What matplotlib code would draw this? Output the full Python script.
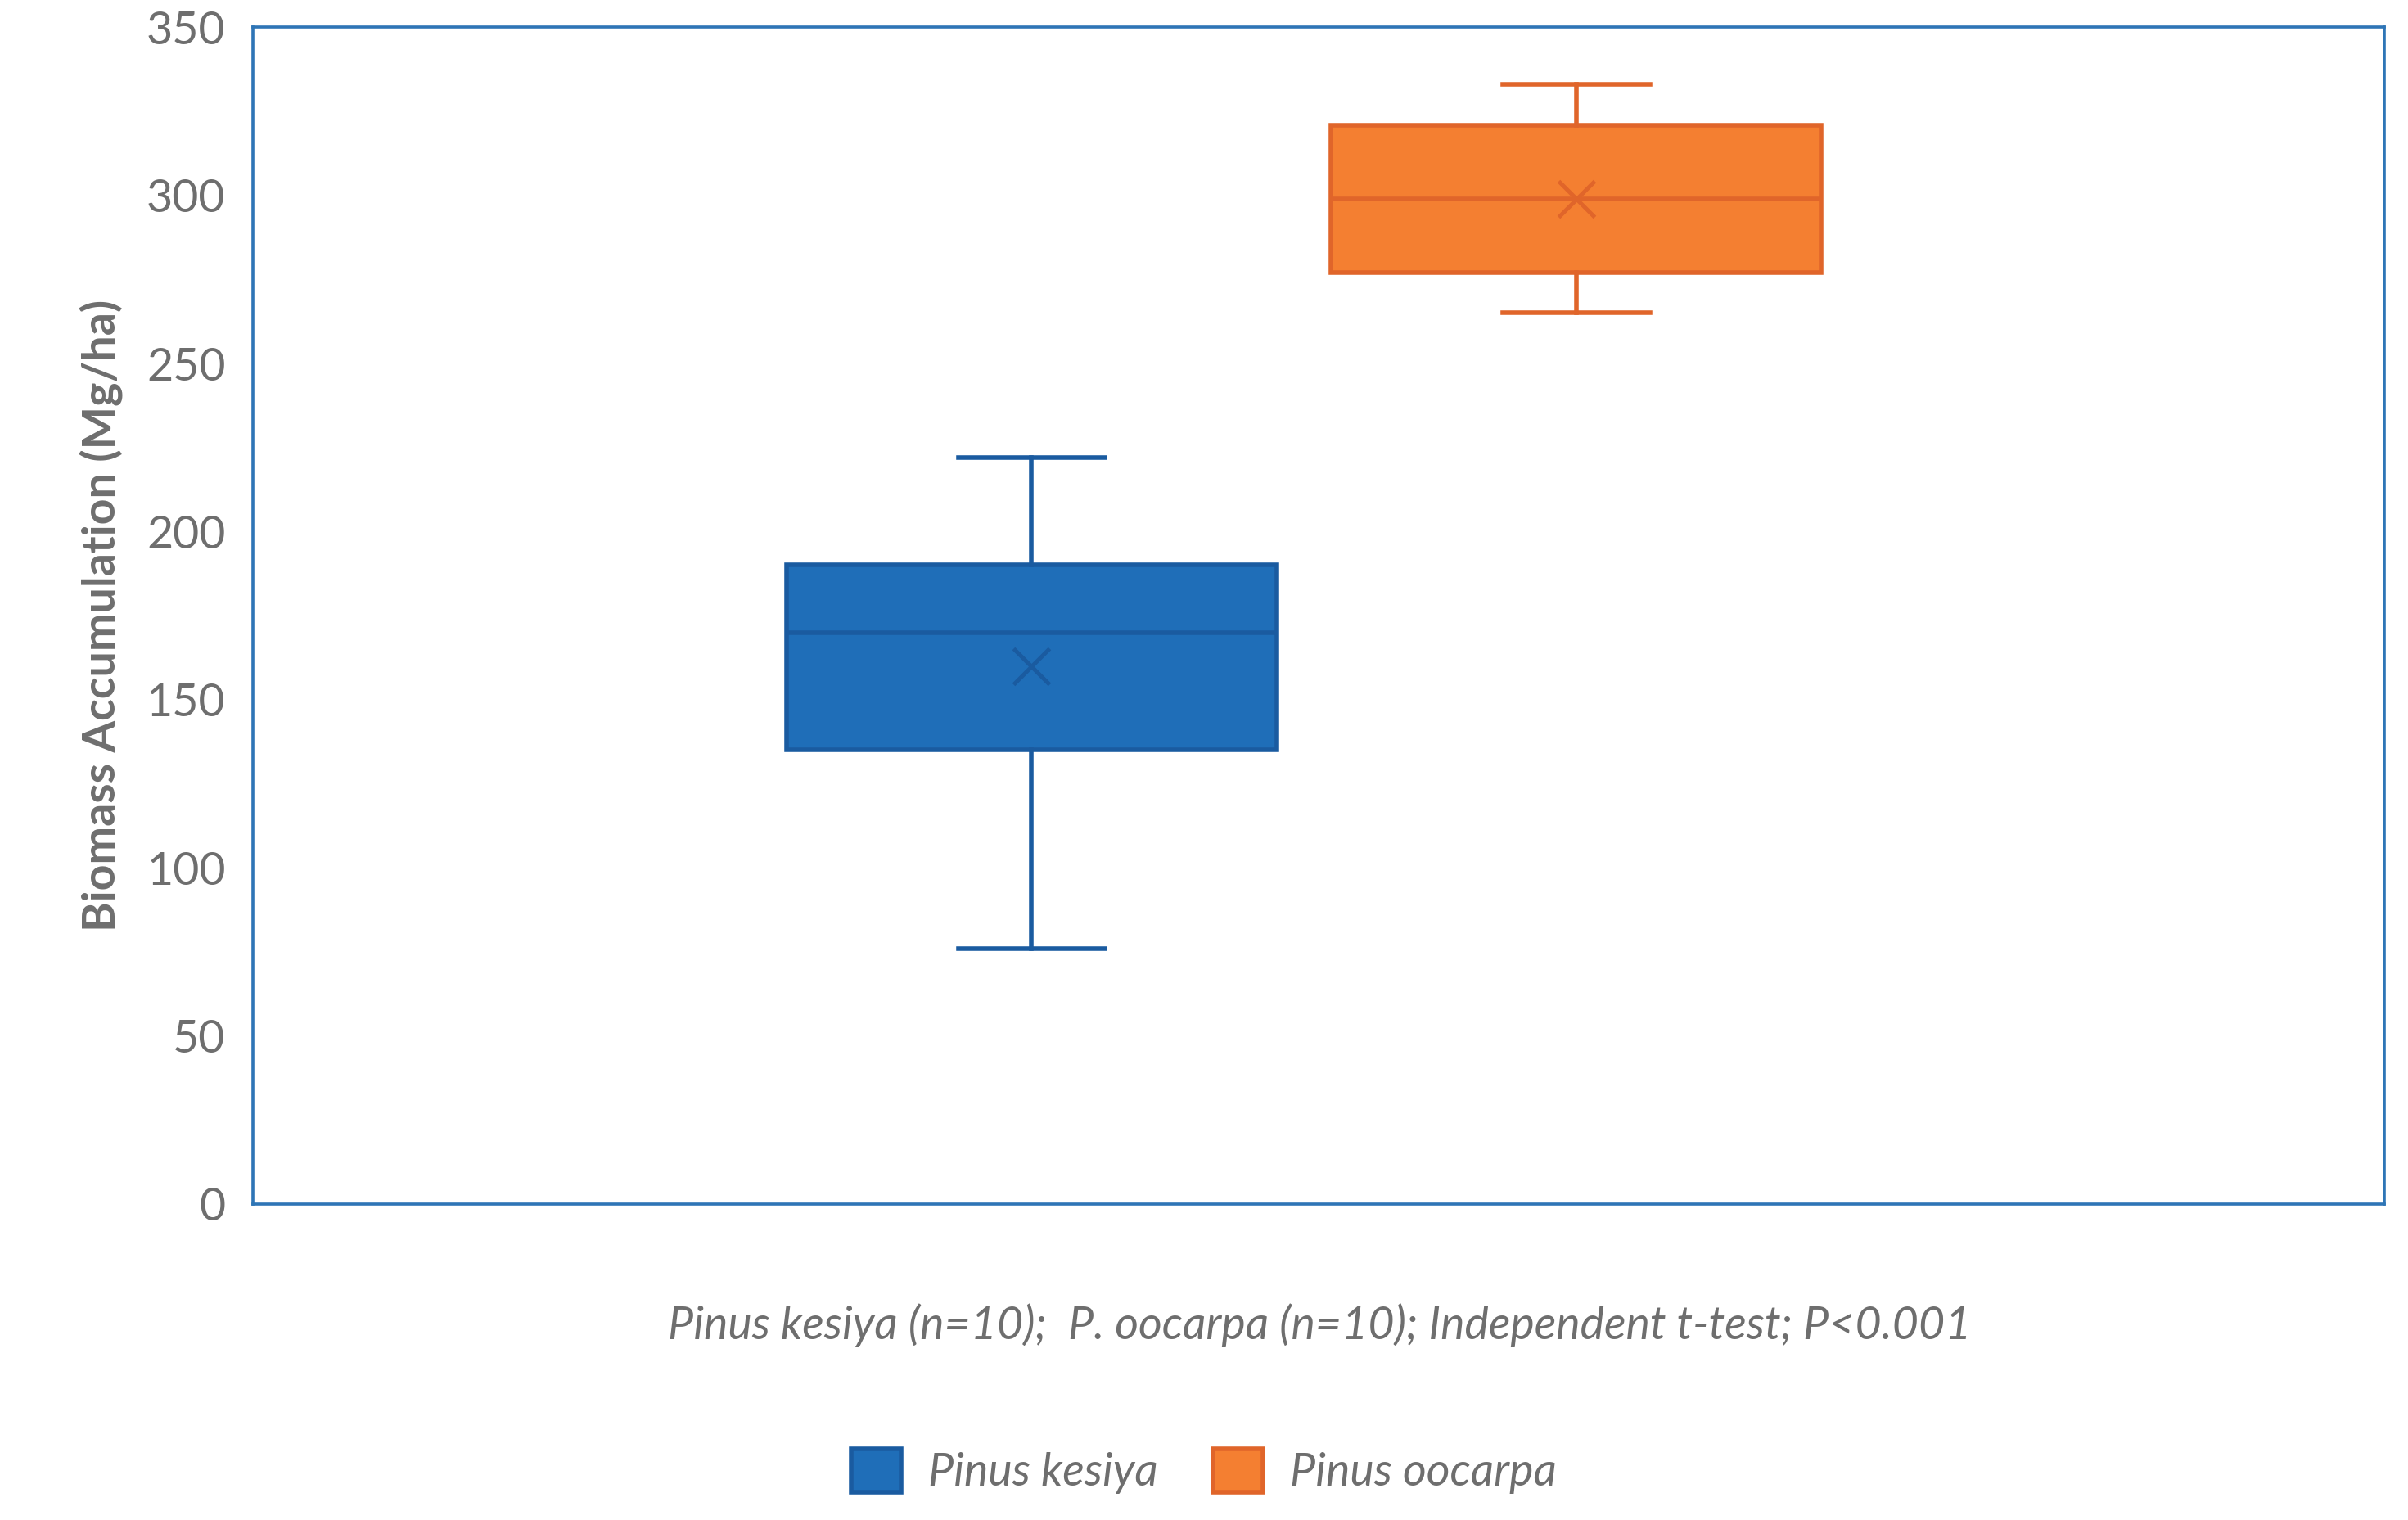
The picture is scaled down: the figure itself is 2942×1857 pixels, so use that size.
import matplotlib
matplotlib.use("Agg")
import matplotlib.pyplot as plt
from matplotlib.patches import Patch

species = ["Pinus kesiya", "Pinus oocarpa"]
whislo = [76, 265]
q1 = [135, 277]
med = [170, 299]
q3 = [190, 321]
whishi = [222, 333]
means = [160, 299]
yticks = [0, 50, 100, 150, 200, 250, 300, 350]

face = ["#1F6EB8", "#F47F31"]
edge = ["#1A5BA0", "#E0652A"]
gray = "#6E6E6E"

plt.rcParams['font.family'] = ['Lato', 'DejaVu Sans']
fig = plt.figure(figsize=(14.71, 9.285), dpi=200)
ax = fig.add_axes([0.105, 0.208, 0.885, 0.774])

stats = [dict(label=s, whislo=a, q1=b, med=c, q3=d, whishi=e, mean=m, fliers=[])
         for s, a, b, c, d, e, m in zip(species, whislo, q1, med, q3, whishi, means)]
for i, st in enumerate(stats):
    ax.bxp([st], positions=[i + 1], widths=0.9, patch_artist=True, showmeans=True,
           boxprops=dict(facecolor=face[i], edgecolor=edge[i], linewidth=2),
           medianprops=dict(color=edge[i], linewidth=2),
           whiskerprops=dict(color=edge[i], linewidth=2),
           capprops=dict(color=edge[i], linewidth=2),
           meanprops=dict(marker='x', markeredgecolor=edge[i], markersize=16, markeredgewidth=1.8),
           capwidths=0.27)

ax.set_xlim(-0.43, 3.483)
ax.set_ylim(0, 350)
ax.set_yticks(yticks)
ax.set_xticks([])
for s in ax.spines.values():
    s.set_color("#2E75B6"); s.set_linewidth(1.3)
ax.tick_params(axis='y', length=0, labelsize=20, colors=gray, pad=12)
ax.set_ylabel("Biomass Accumulation (Mg/ha)", fontsize=20, fontweight='bold', color=gray, labelpad=10)

fig.text(0.548, 0.128, "Pinus kesiya (n=10);  P. oocarpa (n=10); Independent t-test; P<0.001",
         ha='center', va='center', fontsize=20, style='italic', color=gray)
handles = [Patch(facecolor=face[i], edgecolor=edge[i], linewidth=2, label=species[i]) for i in range(2)]
fig.legend(handles=handles, loc='center', bbox_to_anchor=(0.5, 0.032), ncol=2, frameon=False,
           prop=dict(size=20, style='italic'), labelcolor=gray, handlelength=1.1, handleheight=1.1,
           columnspacing=1.2, handletextpad=0.6)
fig.savefig("out.png", dpi=200)
